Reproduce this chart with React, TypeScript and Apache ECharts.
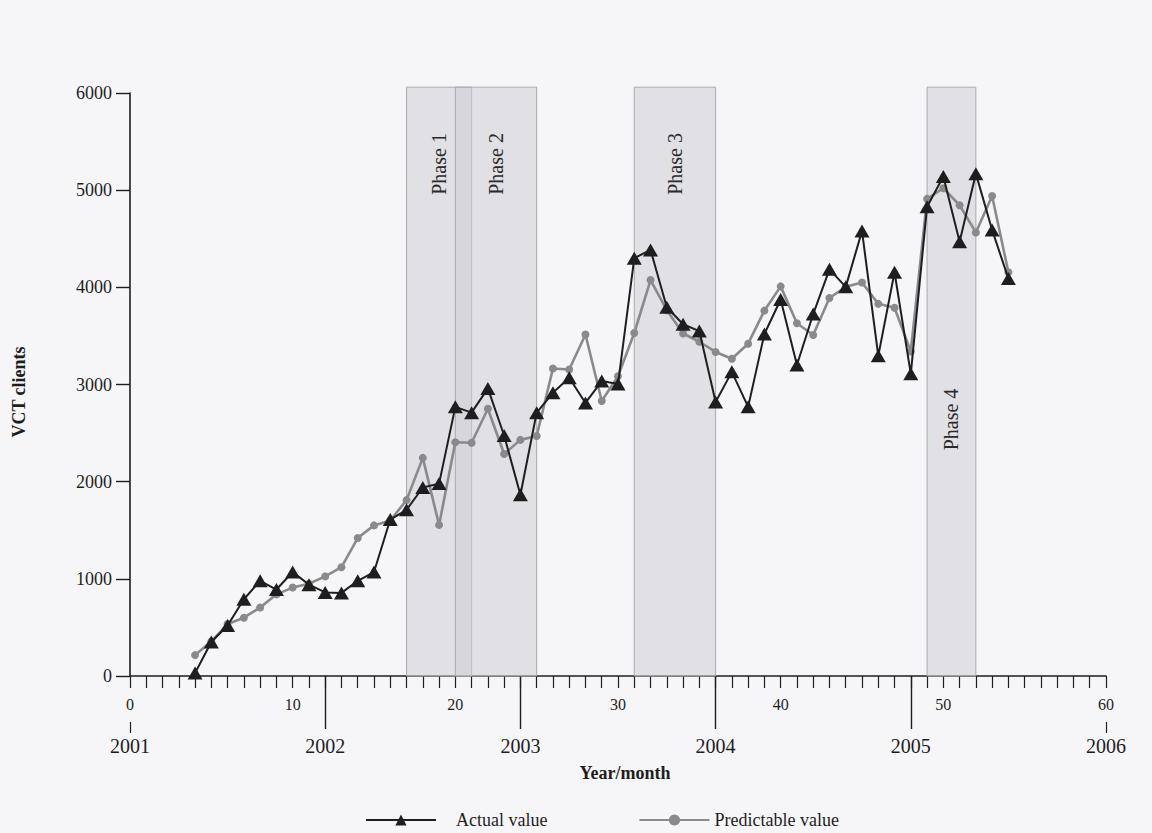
import React, { useEffect, useRef } from 'react';
import * as echarts from 'echarts';

// Month index (months since January 2001) of each observation
const months = [
  4, 5, 6, 7, 8, 9, 10, 11, 12, 13, 14, 15, 16, 17, 18, 19, 20, 21, 22, 23, 24, 25, 26, 27, 28, 29,
  30, 31, 32, 33, 34, 35, 36, 37, 38, 39, 40, 41, 42, 43, 44, 45, 46, 47, 48, 49, 50, 51, 52, 53, 54,
];

// Monthly VCT clients observed
const actualValue = [
  30, 350, 520, 790, 980, 890, 1070, 940, 860, 855, 980, 1070, 1610, 1710, 1940, 1980, 2770, 2710,
  2960, 2475, 1865, 2710, 2915, 3070, 2810, 3035, 3005, 4300, 4385, 3795, 3620, 3550, 2820, 3130,
  2770, 3520, 3875, 3200, 3725, 4185, 4005, 4580, 3295, 4155, 3110, 4830, 5140, 4470, 5170, 4590,
  4090,
];

// Monthly VCT clients predicted by the model
const predictableValue = [
  215, 355, 535, 600, 705, 840, 910, 950, 1025, 1120, 1420, 1550, 1600, 1810, 2245, 1555, 2405, 2400,
  2750, 2285, 2430, 2470, 3165, 3155, 3515, 2830, 3085, 3530, 4075, 3765, 3525, 3440, 3335, 3265,
  3420, 3760, 4010, 3630, 3510, 3890, 4005, 4050, 3830, 3790, 3340, 4910, 5020, 4845, 4565, 4940,
  4155,
];

// Intervention phases (start / end month)
const phaseNames = ['Phase 1', 'Phase 2', 'Phase 3', 'Phase 4'];
const phaseStart = [17, 20, 31, 49];
const phaseEnd = [21, 25, 36, 52];

// Axis ticks
const yMax = 6000;
const yStep = 1000;
const xMax = 60;
const monthLabelStep = 10;
const yearTickMonths = [12, 24, 36, 48];
const yearLabelMonths = [0, 12, 24, 36, 48, 60];
const yearLabels = ['2001', '2002', '2003', '2004', '2005', '2006'];
const edgeMarkMonths = [0, 60];

// Layout constants (data units) for the phase bands and their captions
const SHADE_TOP = 6060;
const phaseLabelLevel = [5270, 5270, 5270, 2640];

const FONT = '"Liberation Serif", "Times New Roman", serif';
const INK = '#1e1e1e';

export default function App() {
  const ref = useRef<HTMLDivElement>(null);

  useEffect(() => {
    if (!ref.current) return;
    const chart = echarts.init(ref.current, null, { renderer: 'svg' });

    const phaseData = phaseNames.map((_, i) => [phaseStart[i], phaseEnd[i], i]);

    const option: any = {
      animation: false,
      backgroundColor: 'transparent',
      grid: { left: 130, right: 46, top: 93, bottom: 157, containLabel: false },
      xAxis: [
        {
          type: 'value',
          min: 0,
          max: xMax,
          interval: 1,
          axisLine: { show: true, lineStyle: { color: INK, width: 1.6 } },
          axisTick: { show: true, inside: false, length: 12, lineStyle: { color: INK, width: 1.2 } },
          axisLabel: {
            show: true,
            margin: 20,
            fontSize: 16,
            fontFamily: FONT,
            color: INK,
            formatter: (v: number) => (v % monthLabelStep === 0 ? String(v) : ''),
          },
          splitLine: { show: false },
        },
        {
          type: 'value',
          position: 'bottom',
          min: 0,
          max: xMax,
          interval: 12,
          axisLine: { show: false },
          axisTick: {
            show: true,
            length: 53,
            customValues: yearTickMonths,
            lineStyle: { color: INK, width: 1.4 },
          },
          axisLabel: {
            show: true,
            margin: 60,
            fontSize: 20,
            fontFamily: FONT,
            color: INK,
            customValues: yearLabelMonths,
            formatter: (v: number) => yearLabels[yearLabelMonths.indexOf(v)] ?? '',
          },
          splitLine: { show: false },
        },
        {
          type: 'value',
          position: 'bottom',
          offset: 46,
          min: 0,
          max: xMax,
          interval: 12,
          axisLine: { show: false },
          axisTick: {
            show: true,
            length: 11,
            customValues: edgeMarkMonths,
            lineStyle: { color: INK, width: 1.2 },
          },
          axisLabel: { show: false },
          splitLine: { show: false },
        },
      ],
      yAxis: {
        type: 'value',
        min: 0,
        max: yMax,
        interval: yStep,
        axisLine: { show: true, lineStyle: { color: INK, width: 1.6 } },
        axisTick: { show: true, inside: false, length: 14, lineStyle: { color: INK, width: 1.4 } },
        axisLabel: {
          margin: 18,
          fontSize: 18,
          fontFamily: FONT,
          color: INK,
          formatter: (v: number) => String(v),
        },
        splitLine: { show: false },
      },
      legend: {
        left: 360,
        top: 806,
        itemWidth: 70,
        itemHeight: 14,
        itemGap: 91,
        textStyle: { fontSize: 18, fontFamily: FONT, color: INK, padding: [0, 0, 0, 15] },
        data: [
          { name: 'Actual value' },
          { name: 'Predictable value', textStyle: { padding: [0, 0, 0, 0] } },
        ],
      },
      graphic: [
        {
          type: 'text',
          x: 19,
          y: 392,
          rotation: Math.PI / 2,
          style: {
            text: 'VCT clients',
            fontSize: 18,
            fontWeight: 'bold',
            fontFamily: FONT,
            fill: INK,
            align: 'center',
            verticalAlign: 'middle',
            textAlign: 'center',
            textVerticalAlign: 'middle',
          },
        },
        {
          type: 'text',
          x: 625,
          y: 773,
          style: {
            text: 'Year/month',
            fontSize: 18,
            fontWeight: 'bold',
            fontFamily: FONT,
            fill: INK,
            align: 'center',
            verticalAlign: 'middle',
            textAlign: 'center',
            textVerticalAlign: 'middle',
          },
        },
      ],
      series: [
        {
          type: 'custom',
          name: 'phases',
          clip: false,
          z: 1,
          silent: true,
          encode: { x: [0, 1] },
          data: phaseData,
          renderItem: (params: any, api: any) => {
            const idx = api.value(2);
            const s = api.value(0);
            const e = api.value(1);
            const p0 = api.coord([s, 0]);
            const p1 = api.coord([e, SHADE_TOP]);
            const mid = api.coord([(s + e) / 2, phaseLabelLevel[idx]]);
            return {
              type: 'group',
              children: [
                {
                  type: 'rect',
                  shape: { x: p0[0], y: p1[1], width: p1[0] - p0[0], height: p0[1] - p1[1] },
                  style: { fill: 'rgba(205,205,212,0.53)', stroke: '#a9a9ae', lineWidth: 1 },
                },
                {
                  type: 'text',
                  x: mid[0],
                  y: mid[1],
                  rotation: Math.PI / 2,
                  style: {
                    text: phaseNames[idx],
                    fontSize: 20,
                    fontFamily: FONT,
                    fill: '#2a2a2a',
                    align: 'center',
                    verticalAlign: 'middle',
                  },
                },
              ],
            };
          },
        },
        {
          type: 'line',
          name: 'Predictable value',
          z: 3,
          data: months.map((m, i) => [m, predictableValue[i]]),
          symbol: 'circle',
          symbolSize: 8,
          showAllSymbol: true,
          itemStyle: { color: '#8a8a8c' },
          lineStyle: { color: '#8a8a8c', width: 2.6 },
        },
        {
          type: 'line',
          name: 'Actual value',
          z: 4,
          data: months.map((m, i) => [m, actualValue[i]]),
          symbol: 'triangle',
          symbolSize: [15, 13],
          showAllSymbol: true,
          itemStyle: { color: INK },
          lineStyle: { color: INK, width: 2 },
        },
      ],
    };

    chart.setOption(option);
    return () => chart.dispose();
  }, []);

  return (
    <div
      style={{
        position: 'absolute',
        left: 0,
        top: 0,
        width: 1152,
        height: 833,
        background: '#f6f5f8',
      }}
    >
      <div ref={ref} style={{ width: 1152, height: 833 }} />
    </div>
  );
}
